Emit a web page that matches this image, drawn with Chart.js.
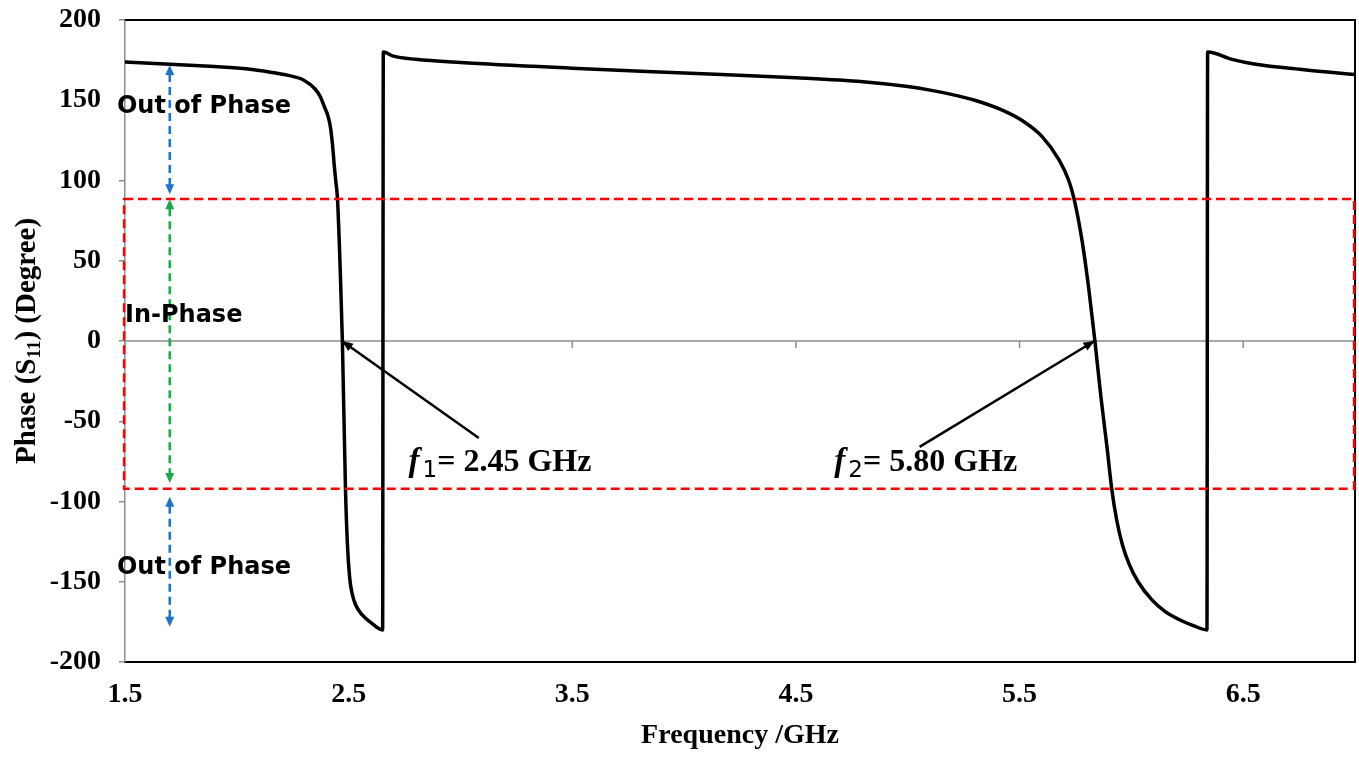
<!DOCTYPE html>
<html lang="en">
<head>
<meta charset="UTF-8">
<title>Phase (S11)</title>
<style>
  html, body { margin: 0; padding: 0; background: #fff; }
  #grafico { display: block; }
</style>
</head>
<body>
<canvas id="grafico" width="1359" height="757"></canvas>

<script src="https://cdn.jsdelivr.net/npm/chart.js"></script>
<script>
// frequency (GHz) and reflection phase (degree)
const frecuencias = [1.50, 1.70, 1.90, 2.05, 2.15, 2.23, 2.30, 2.35, 2.374, 2.39, 2.41, 2.42, 2.428, 2.436, 2.443, 2.450, 2.463, 2.472, 2.486, 2.495, 2.505, 2.515, 2.530, 2.560, 2.600, 2.652,
    2.655, 2.70, 2.80, 3.00, 3.50, 4.00, 4.50, 4.80, 5.00, 5.10, 5.20, 5.30, 5.42, 5.51, 5.60, 5.676, 5.72, 5.743, 5.779, 5.81, 5.837, 5.864, 5.891, 5.913, 5.935, 5.96, 5.99, 6.03, 6.09, 6.15, 6.22, 6.28, 6.338,
    6.341, 6.45, 6.549, 6.773, 7.00]
const fases = [173.8, 172.5, 171, 169.5, 167.5, 165.5, 162.5, 157, 152, 146.5, 139, 132, 122, 109, 99, 89, 42, 0, -93, -128, -148, -157, -164, -170.5, -175.5, -180,
    180, 177.5, 175.5, 173.5, 170, 167, 164, 161.5, 158.5, 156.3, 153.5, 150, 144, 137.5, 127.5, 113, 100, 89, 63, 32, 0, -35, -66, -93, -112, -127, -139, -150, -161, -168.5, -174, -177.5, -180,
    180, 175.5, 172.6, 169, 166]
const ticksX = [1.5, 2.5, 3.5, 4.5, 5.5, 6.5]

// red dashed in-phase band (degree)
const banda = [88.5, -92]
// dashed double arrows at 1.7 GHz
const flechaX = 1.7
const flechasAzules = [[172, 91.5], [-97, -178]]
const flechaVerde = [88.3, -88.5]
// region labels: [text, x (GHz), y (degree)]
const textosRegion = [["Out of Phase", 1.464, 146], ["In-Phase", 1.5, 16], ["Out of Phase", 1.464, -141]]
// resonance markers: [sub index, text, tip x, tip y, tail x, tail y, label x, label y]
const marcas = [
    ["1", "= 2.45 GHz", 2.47, 0, 3.082, -60.5, 2.768, -75],
    ["2", "= 5.80 GHz", 5.835, 0, 5.053, -66, 4.672, -75]
]

const serif = "'Liberation Serif', 'Times New Roman', serif"
const sans = "'DejaVu Sans', Verdana, sans-serif"

function cabeza(ctx, x, y, ang, largo, ancho, color) {
    ctx.save()
    ctx.translate(x, y)
    ctx.rotate(ang)
    ctx.fillStyle = color
    ctx.beginPath()
    ctx.moveTo(0, 0)
    ctx.lineTo(-largo, ancho / 2)
    ctx.lineTo(-largo, -ancho / 2)
    ctx.closePath()
    ctx.fill()
    ctx.restore()
}

function flechaDoble(ctx, x, yA, yB, color) {
    // yA is the upper end in pixels
    ctx.save()
    ctx.strokeStyle = color
    ctx.lineWidth = 2.5
    ctx.setLineDash([8, 5])
    ctx.beginPath()
    ctx.moveTo(x, yA + 9)
    ctx.lineTo(x, yB - 9)
    ctx.stroke()
    ctx.restore()
    cabeza(ctx, x, yA, -Math.PI / 2, 10, 9, color)
    cabeza(ctx, x, yB, Math.PI / 2, 10, 9, color)
}

const extras = {
    id: 'extras',
    beforeDatasetsDraw(chart) {
        const { ctx, chartArea: a, scales: { x, y } } = chart
        // zero line with small tick marks
        const y0 = y.getPixelForValue(0)
        ctx.save()
        ctx.strokeStyle = '#8c8c8c'
        ctx.lineWidth = 1.5
        ctx.beginPath()
        ctx.moveTo(a.left, y0)
        ctx.lineTo(a.right, y0)
        ticksX.forEach(t => {
            const px = x.getPixelForValue(t)
            ctx.moveTo(px, y0)
            ctx.lineTo(px, y0 + 7)
        })
        ctx.stroke()
        ctx.restore()
    },
    afterDatasetsDraw(chart) {
        const { ctx, chartArea: a, scales: { x, y } } = chart
        ctx.save()
        // top and right frame
        ctx.strokeStyle = '#000'
        ctx.lineWidth = 2
        ctx.beginPath()
        ctx.moveTo(a.left, a.top)
        ctx.lineTo(a.right, a.top)
        ctx.lineTo(a.right, a.bottom)
        ctx.stroke()

        // red dashed band
        const yt = y.getPixelForValue(banda[0])
        const yb = y.getPixelForValue(banda[1])
        ctx.strokeStyle = '#ff0000'
        ctx.lineWidth = 2.5
        ctx.setLineDash([9, 5])
        ctx.strokeRect(a.left - 1, yt, a.right - a.left, yb - yt)
        ctx.setLineDash([])

        // arrows
        const fx = x.getPixelForValue(flechaX)
        flechasAzules.forEach(f => flechaDoble(ctx, fx, y.getPixelForValue(f[0]), y.getPixelForValue(f[1]), '#1f73c8'))
        flechaDoble(ctx, fx, y.getPixelForValue(flechaVerde[0]), y.getPixelForValue(flechaVerde[1]), '#20a84a')

        // region labels
        ctx.fillStyle = '#000'
        ctx.font = "bold 24px " + sans
        ctx.textAlign = 'left'
        ctx.textBaseline = 'middle'
        textosRegion.forEach(t => ctx.fillText(t[0], x.getPixelForValue(t[1]), y.getPixelForValue(t[2])))

        // resonance markers
        marcas.forEach(m => {
            const tx = x.getPixelForValue(m[2]), ty = y.getPixelForValue(m[3])
            const cx = x.getPixelForValue(m[4]), cy = y.getPixelForValue(m[5])
            ctx.strokeStyle = '#000'
            ctx.lineWidth = 2.5
            ctx.beginPath()
            ctx.moveTo(cx, cy)
            ctx.lineTo(tx, ty)
            ctx.stroke()
            cabeza(ctx, tx, ty, Math.atan2(ty - cy, tx - cx), 11, 9, '#000')

            let lx = x.getPixelForValue(m[6])
            const ly = y.getPixelForValue(m[7])
            ctx.textBaseline = 'alphabetic'
            ctx.font = "italic bold 33px " + serif
            ctx.fillText("f", lx, ly + 10)
            lx += ctx.measureText("f").width + 3
            ctx.font = "23px " + sans
            ctx.fillText(m[0], lx, ly + 16)
            lx += ctx.measureText(m[0]).width
            ctx.font = "bold 32px " + serif
            ctx.fillText(m[1], lx, ly + 10)
        })

        // y axis title with subscript
        const partes = [["Phase (S", "bold 29px "], ["11", "bold 19px "], [") (Degree)", "bold 29px "]]
        let total = 0
        partes.forEach(p => { ctx.font = p[1] + serif; total += ctx.measureText(p[0]).width })
        ctx.translate(25, (a.top + a.bottom) / 2)
        ctx.rotate(-Math.PI / 2)
        let px = -total / 2
        partes.forEach((p, i) => {
            ctx.font = p[1] + serif
            ctx.fillText(p[0], px, i === 1 ? 15 : 10)
            px += ctx.measureText(p[0]).width
        })
        ctx.restore()
    }
}

const canvaDom = document.querySelector("#grafico")

new Chart(canvaDom, {
    type: 'line',
    data: {
        datasets: [{
            label: 'Phase',
            data: frecuencias.map((f, i) => ({ x: f, y: fases[i] })),
            borderColor: '#000',
            borderWidth: 3.5,
            pointRadius: 0,
            fill: false,
            cubicInterpolationMode: 'monotone'
        }]
    },
    options: {
        responsive: false,
        animation: false,
        devicePixelRatio: 1,
        layout: { padding: { top: 20, right: 4, left: 0, bottom: 0 } },
        plugins: { legend: { display: false }, tooltip: { enabled: false } },
        scales: {
            x: {
                type: 'linear',
                min: 1.5,
                max: 7.0,
                afterBuildTicks: (s) => { s.ticks = ticksX.map(v => ({ value: v })) },
                afterFit: (s) => { s.height = 95 },
                grid: { display: false, drawTicks: false },
                border: { display: true, color: '#000', width: 2 },
                ticks: {
                    padding: 16,
                    color: '#000',
                    font: { family: serif, size: 28, weight: 'bold' },
                    callback: (v) => v.toFixed(1)
                },
                title: {
                    display: true,
                    text: 'Frequency /GHz',
                    color: '#000',
                    font: { family: serif, size: 28, weight: 'bold' },
                    padding: { top: 0, bottom: 4 }
                }
            },
            y: {
                min: -200,
                max: 200,
                afterFit: (s) => { s.width = 125; s.paddingTop = 0; s.paddingBottom = 0 },
                grid: { drawOnChartArea: false, drawTicks: true, tickLength: 6, color: '#8c8c8c', lineWidth: 1.5 },
                border: { display: true, color: '#8c8c8c', width: 1.5 },
                ticks: {
                    stepSize: 50,
                    padding: 18,
                    color: '#000',
                    font: { family: serif, size: 28, weight: 'bold' }
                }
            }
        }
    },
    plugins: [extras]
})
</script>
</body>
</html>
